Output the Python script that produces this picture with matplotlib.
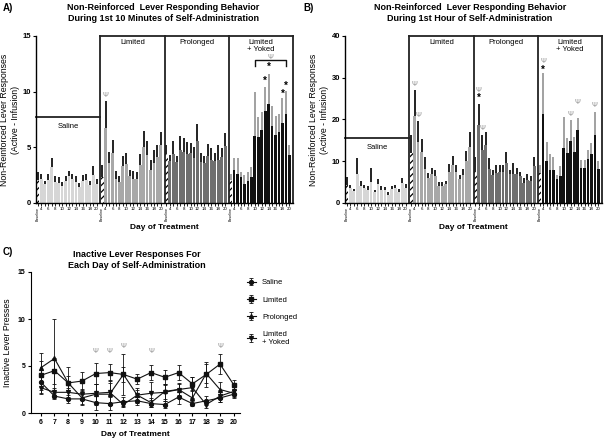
import matplotlib
matplotlib.use("Agg")
import matplotlib.pyplot as plt
import numpy as np

plt.rcParams["font.family"] = ["Liberation Sans", "DejaVu Sans"]
plt.rcParams["hatch.linewidth"] = 0.9

groups = ["Saline", "Limited", "Prolonged", "Limited\n+ Yoked"]
bar_labels = ["Baseline"] + [str(d) for d in range(4, 21)]
group_colors = ["#d6d6d6", "#a8a8a8", "#6f6f6f", "#111111"]
err_colors = ["#111111", "#111111", "#111111", "#9a9a9a"]

# Panel A: first 10 minutes (mean, mean + SEM); index 0 = baseline, then days 4..20
a_mean = [
    [2.1, 2.2, 1.7, 2.1, 3.2, 1.9, 1.8, 1.5, 2.0, 2.4, 2.2, 1.9, 1.4, 2.0, 2.1, 1.6, 2.5, 1.7],
    [2.3, 6.7, 3.6, 4.5, 2.2, 1.9, 3.3, 3.5, 2.4, 2.2, 2.2, 3.4, 5.0, 4.3, 3.0, 3.6, 4.1, 5.2],
    [4.4, 3.8, 4.4, 3.7, 4.8, 4.6, 4.4, 4.5, 4.0, 5.6, 3.7, 3.6, 4.2, 3.9, 3.8, 3.9, 4.1, 5.1],
    [2.1, 3.0, 2.6, 2.3, 1.7, 2.0, 2.3, 6.0, 5.9, 6.6, 8.3, 8.9, 6.9, 6.1, 6.4, 7.2, 8.0, 4.3],
]
a_upper = [
    [2.8, 2.6, 2.0, 2.6, 4.0, 2.4, 2.3, 1.9, 2.4, 2.9, 2.6, 2.4, 1.8, 2.5, 2.6, 2.0, 3.3, 2.2],
    [3.4, 9.2, 4.6, 5.7, 2.9, 2.4, 4.2, 4.5, 3.0, 2.9, 2.8, 4.4, 6.5, 5.6, 3.9, 4.8, 5.2, 6.4],
    [5.2, 4.3, 5.6, 4.2, 6.0, 5.8, 5.5, 5.4, 5.0, 7.1, 4.5, 4.2, 5.3, 4.9, 4.5, 5.2, 4.9, 6.3],
    [2.6, 4.0, 4.0, 2.8, 2.5, 2.8, 3.2, 10.0, 7.7, 8.2, 10.4, 11.6, 8.7, 7.8, 8.0, 9.4, 10.1, 5.2],
]

# Panel B: first hour
b_mean = [
    [4.3, 3.5, 2.9, 6.9, 4.0, 3.5, 3.2, 5.0, 2.7, 4.5, 3.2, 3.1, 2.0, 3.3, 3.6, 2.7, 4.8, 3.6],
    [12.0, 20.8, 14.7, 12.2, 8.1, 6.1, 7.0, 6.5, 4.1, 4.1, 4.5, 7.5, 9.0, 7.5, 5.8, 6.7, 10.0, 13.3],
    [7.5, 18.6, 12.7, 13.8, 8.1, 6.8, 7.3, 7.5, 7.5, 9.5, 6.9, 6.9, 7.0, 6.4, 4.9, 5.5, 5.2, 8.9],
    [7.3, 21.2, 10.1, 8.0, 7.8, 5.7, 6.4, 13.2, 12.0, 14.9, 12.3, 17.6, 8.5, 8.4, 10.5, 11.8, 16.3, 8.1],
]
b_upper = [
    [6.2, 4.4, 3.4, 10.8, 5.2, 4.3, 4.1, 8.3, 3.1, 5.7, 4.0, 3.9, 2.6, 4.1, 4.4, 3.3, 6.0, 4.6],
    [16.2, 27.0, 19.7, 15.4, 11.0, 7.2, 8.4, 8.0, 5.1, 5.1, 5.3, 9.3, 11.2, 9.1, 6.8, 8.1, 12.4, 16.9],
    [11.1, 23.8, 16.4, 17.0, 10.7, 7.9, 9.1, 9.0, 9.0, 12.2, 8.0, 9.5, 8.4, 7.5, 6.0, 6.9, 6.4, 11.1],
    [9.1, 31.2, 14.5, 11.7, 11.0, 6.8, 8.9, 20.6, 15.6, 19.8, 15.7, 20.4, 10.2, 10.2, 12.7, 14.3, 21.9, 10.1],
]

# Panel C: inactive lever presses, days 6..20
c_days = list(range(6, 21))
c_mean = {
    "Saline": [3.3, 1.8, 1.5, 1.5, 1.1, 1.0, 1.2, 1.3, 1.0, 0.9, 1.7, 1.0, 1.3, 1.6, 2.0],
    "Limited": [4.0, 4.5, 3.2, 3.4, 4.2, 4.3, 4.1, 3.6, 4.3, 3.8, 4.3, 3.1, 4.1, 5.2, 3.0],
    "Prolonged": [4.8, 5.8, 3.2, 1.6, 2.0, 2.0, 4.1, 1.9, 1.1, 2.3, 2.5, 1.6, 4.2, 2.5, 2.1],
    "Limited\n+ Yoked": [2.7, 2.2, 2.2, 2.0, 2.1, 2.2, 0.9, 1.9, 2.1, 2.2, 2.5, 2.7, 0.9, 1.8, 2.3],
}
c_sem = {
    "Saline": [1.3, 0.3, 0.4, 0.5, 0.8, 0.7, 0.5, 0.4, 0.4, 0.4, 0.7, 0.3, 0.5, 0.4, 0.4],
    "Limited": [1.5, 1.4, 1.7, 1.0, 1.1, 0.9, 2.2, 0.5, 0.8, 0.8, 0.8, 0.7, 1.3, 1.1, 0.5],
    "Prolonged": [1.6, 4.2, 0.7, 0.7, 1.1, 1.2, 0.8, 0.6, 0.5, 0.8, 0.6, 0.7, 1.0, 0.8, 0.4],
    "Limited\n+ Yoked": [0.6, 0.5, 0.5, 0.6, 1.0, 1.3, 0.3, 0.8, 1.2, 0.9, 0.7, 1.1, 0.4, 0.6, 0.5],
}
c_markers = ["o", "s", "^", "v"]
c_psi_days = [10, 11, 12, 14, 19]
c_psi_y = [6.5, 6.5, 7.1, 6.5, 7.1]

W, H = 606, 442
fig = plt.figure(figsize=(W / 100, H / 100), dpi=100)


def px_axes(x0, y0, x1, y1):
    return fig.add_axes([x0 / W, 1 - y1 / H, (x1 - x0) / W, (y1 - y0) / H])


SPAN = 18.6
PSI = "\u03a8"


def bar_panel(ax, means, uppers, ymax, ystep, saline_top):
    ticks, labels = [], []
    for g in range(4):
        xs = g * SPAN + 0.55 + np.arange(18)
        m = np.array(means[g])
        u = np.array(uppers[g])
        ax.bar(xs[1:], m[1:], width=0.8, color=group_colors[g], lw=0)
        ax.bar(xs[:1], m[:1], width=0.8, color="white", edgecolor="black",
               hatch="/////", lw=0)
        ax.vlines(xs, m, u, color=err_colors[g], lw=1.3)
        ticks += list(xs)
        labels += ["Baseline"] + [lab if int(lab) % 2 == 0 else "" for lab in bar_labels[1:]]
    # group boxes
    ax.plot([0, SPAN], [saline_top, saline_top], color="#222222", lw=1.3, clip_on=False)
    ax.plot([SPAN, 4 * SPAN], [ymax, ymax], color="#222222", lw=1.3, clip_on=False)
    for g in range(1, 5):
        ax.plot([g * SPAN, g * SPAN], [0, ymax], color="#222222", lw=1.3, clip_on=False)
    ax.text(SPAN / 2, saline_top - ymax * 0.06, "Saline", ha="center", va="center",
            fontsize=5.5)
    for g in range(1, 4):
        ax.text(g * SPAN + SPAN / 2, ymax * 0.985, groups[g], ha="center", va="top",
                fontsize=5.5, linespacing=1.05)
    ax.set_xlim(0, 4 * SPAN)
    ax.set_ylim(0, ymax)
    ax.set_yticks(np.arange(0, ymax + 0.1, ystep))
    ax.set_xticks(ticks)
    ax.set_xticklabels(labels, fontsize=3.2)
    for t in ax.get_xticklabels():
        if t.get_text() == "Baseline":
            t.set_rotation(90)
            t.set_fontsize(2.6)
    ax.tick_params(axis="x", length=2, width=0.6, pad=1)
    ax.tick_params(axis="y", length=2.5, width=0.8, labelsize=5.5, pad=1)
    for t in ax.get_yticklabels():
        t.set_fontweight("bold")
    for s in ["top", "right"]:
        ax.spines[s].set_visible(False)
    ax.spines["left"].set_linewidth(1.0)
    ax.spines["bottom"].set_linewidth(1.0)
    ax.set_ylabel("Non-Reinforced Lever Responses\n(Active - Infusion)", fontsize=6.3,
                  labelpad=2)
    ax.set_xlabel("Day of Treatment", fontsize=6, fontweight="bold", labelpad=2)


def xpos(g, i):
    return g * SPAN + 0.55 + i


# ---- Panel A ----
axA = px_axes(36, 36, 293, 203)
bar_panel(axA, a_mean, a_upper, 15, 5, 7.75)
for i, y in [(10, 11.0), (11, 12.2), (15, 9.8), (16, 10.5)]:
    axA.text(xpos(3, i), y, "*", ha="center", va="center", fontsize=7, fontweight="bold")
axA.plot([xpos(3, 7), xpos(3, 7), xpos(3, 16), xpos(3, 16)], [12.3, 12.8, 12.8, 12.3],
         color="#111111", lw=1.0)
axA.text((xpos(3, 7) + xpos(3, 16)) / 2, 13.1, PSI, ha="center", va="center",
         fontsize=5, color="#888888")
axA.text(xpos(1, 1), 9.7, PSI, ha="center", va="center", fontsize=5, color="#888888")
fig.text(3 / W, 1 - 8 / H, "A)", fontsize=7, fontweight="bold", va="center")
fig.text(163 / W, 1 - 13 / H,
         "Non-Reinforced  Lever Responding Behavior\nDuring 1st 10 Minutes of Self-Administration",
         ha="center", va="center", fontsize=6.5, fontweight="bold", linespacing=1.15)

# ---- Panel B ----
axB = px_axes(345, 36, 602, 203)
bar_panel(axB, b_mean, b_upper, 40, 10, 15.6)
for g, i, y, txt in [(1, 1, 28.4, PSI), (1, 2, 21.0, PSI), (2, 1, 25.2, "*"),
                     (2, 1, 26.9, PSI), (2, 2, 17.8, PSI), (3, 1, 31.8, "*"),
                     (3, 1, 34.0, PSI), (3, 9, 21.2, PSI), (3, 11, 24.0, PSI),
                     (3, 16, 23.3, PSI)]:
    if txt == "*":
        axB.text(xpos(g, i), y, "*", ha="center", va="center", fontsize=7, fontweight="bold")
    else:
        axB.text(xpos(g, i), y, PSI, ha="center", va="center", fontsize=5, color="#888888")
fig.text(303 / W, 1 - 8 / H, "B)", fontsize=7, fontweight="bold", va="center")
fig.text(470 / W, 1 - 13 / H,
         "Non-Reinforced  Lever Responding Behavior\nDuring 1st Hour of Self-Administration",
         ha="center", va="center", fontsize=6.5, fontweight="bold", linespacing=1.15)

# ---- Panel C ----
axC = px_axes(31, 272, 240, 413)
for k, (name, mk) in enumerate(zip(c_mean, c_markers)):
    axC.errorbar(c_days, c_mean[name], yerr=c_sem[name], color="#111111", marker=mk,
                 ms=2.8, lw=0.8, elinewidth=0.6, capsize=1.5, capthick=0.6, label=name)
for d, y in zip(c_psi_days, c_psi_y):
    axC.text(d, y, PSI, ha="center", va="center", fontsize=5, color="#888888")
axC.set_xlim(5.3, 20.45)
axC.set_ylim(0, 15)
axC.set_xticks(c_days)
axC.set_yticks([0, 5, 10, 15])
axC.tick_params(length=2.5, width=0.8, labelsize=5, pad=1.5)
for t in axC.get_xticklabels() + axC.get_yticklabels():
    t.set_fontweight("bold")
for s in ["top", "right"]:
    axC.spines[s].set_visible(False)
axC.set_ylabel("Inactive Lever Presses", fontsize=6.3, labelpad=4)
axC.set_xlabel("Day of Treatment", fontsize=6, fontweight="bold", labelpad=4)
axC.legend(loc="upper left", bbox_to_anchor=(1.0, 1.0), frameon=False, fontsize=5.5,
           handlelength=1.2, labelspacing=1.3, borderaxespad=0.5)
fig.text(3 / W, 1 - 252 / H, "C)", fontsize=7, fontweight="bold", va="center")
fig.text(137 / W, 1 - 260 / H,
         "Inactive Lever Responses For\nEach Day of Self-Administration",
         ha="center", va="center", fontsize=6.5, fontweight="bold", linespacing=1.15)

fig.savefig("out.png", dpi=100)
